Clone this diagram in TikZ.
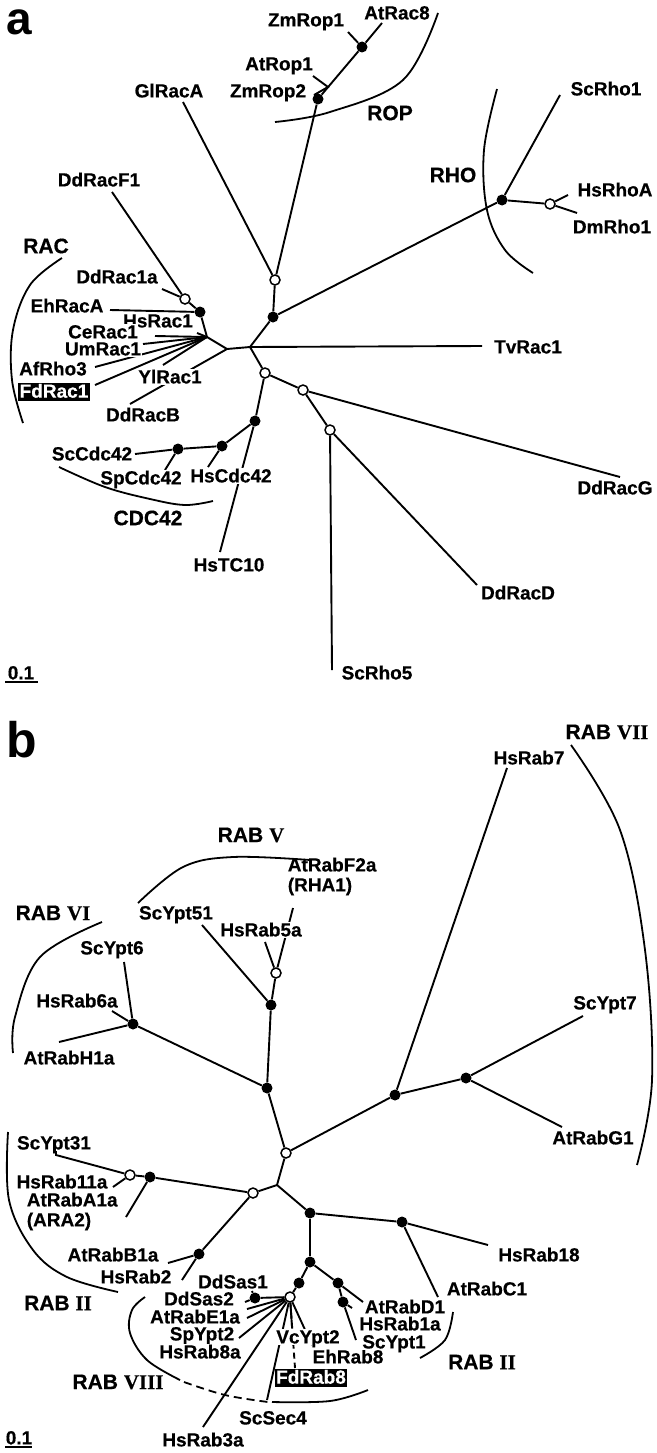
\documentclass[tikz,border=0pt]{standalone}
\usepackage{fontspec}
\newfontfamily\labf[FakeBold=0.5]{Liberation Sans Bold}
\newfontfamily\panf{Liberation Sans Bold}
\newfontfamily\romf[FakeBold=0.3]{Liberation Serif Bold}
\begin{document}
\begin{tikzpicture}[x=1pt,y=-1pt,
  br/.style={line width=1.9pt},
  brk/.style={line width=1.8pt},
  fdot/.style={circle,fill=black,inner sep=0pt,minimum size=11pt},
  odot/.style={circle,draw,fill=white,line width=1.5pt,inner sep=0pt,minimum size=10pt},
  lab/.style={font=\labf\fontsize{19}{20}\selectfont,inner xsep=0.6pt,inner ysep=0.2pt,text height=13.8pt,text depth=1pt,fill=white},
  hl/.style={lab,fill=black,text=white,inner xsep=1.5pt,inner ysep=1pt,text depth=2.5pt},
  grp/.style={font=\labf\fontsize{21}{22}\selectfont,inner sep=0.5pt},
  pan/.style={font=\panf\fontsize{46}{46}\selectfont,inner sep=0pt,anchor=base west}]
\useasboundingbox (0,0) rectangle (656,1453);
\newcommand{\rn}[1]{{\romf #1}}
% ================= panel a =================
\node[pan] (pa) at (6,35) {a};
% internal nodes
\coordinate (J0) at (250,347);
\coordinate (J1) at (227,349);
\coordinate (H) at (207,337);
\node[fdot] (Fa1) at (200,312) {};
\node[odot] (Oa1) at (185,299) {};
\node[fdot] (Fa2) at (273,317) {};
\node[odot] (Oa2) at (275,280) {};
\node[fdot] (Fa3) at (318,99) {};
\node[fdot] (Fa4) at (362,47) {};
\coordinate (vROP) at (328,87);
\node[fdot] (Fa5) at (502,200) {};
\node[odot] (Oa3) at (550,204) {};
\node[odot] (Oa4) at (265,373) {};
\node[odot] (Oa5) at (303,390) {};
\node[odot] (Oa6) at (330,430) {};
\node[fdot] (Fa6) at (255,421) {};
\node[fdot] (Fa7) at (222,446) {};
\node[fdot] (Fa8) at (178,449) {};
% leaf ends
\coordinate (eDdRacF1) at (112,192);
\coordinate (eDdRac1a) at (162,289);
\coordinate (eEhRacA) at (110,310);
\coordinate (eHsRac1) at (197,333);
\coordinate (eCeRac1) at (155,336);
\coordinate (eUmRac1) at (143,344);
\coordinate (eAfRho3) at (95,367);
\coordinate (eFdRac1) at (95,385);
\coordinate (eYlRac1) at (163,365);
\coordinate (eDdRacB) at (130,404);
\coordinate (eGlRacA) at (183,102);
\coordinate (eZmRop1) at (348,32);
\coordinate (eAtRac8) at (382,23);
\coordinate (eAtRop1) at (313,76);
\coordinate (eZmRop2) at (314,95);
\coordinate (eScRho1) at (560,95);
\coordinate (eHsRhoA) at (568,195);
\coordinate (eDmRho1) at (577,213);
\coordinate (eTvRac1) at (482,346);
\coordinate (eDdRacG) at (620,477);
\coordinate (eScRho5) at (332,670);
\coordinate (eDdRacD) at (477,585);
\coordinate (eHsTC10) at (220,552);
\coordinate (eHsCdc42) at (208,467);
\coordinate (eScCdc42) at (135,454);
\coordinate (eSpCdc42) at (165,470);
% branches
\draw[br] (J0) -- (J1) -- (H);
\draw[br] (J1) -- (eDdRacB);
\draw[br] (H) -- (eYlRac1);
\draw[br] (H) -- (eCeRac1);
\draw[br] (H) -- (eUmRac1);
\draw[br] (H) -- (eAfRho3);
\draw[br] (H) -- (eFdRac1);
\draw[br] (H) -- (eHsRac1);
\draw[br] (H) -- (Fa1);
\draw[br] (Fa1) -- (eEhRacA);
\draw[br] (Fa1) -- (Oa1);
\draw[br] (Oa1) -- (eDdRacF1);
\draw[br] (Oa1) -- (eDdRac1a);
\draw[br] (J0) -- (Fa2);
\draw[br] (Fa2) -- (Oa2);
\draw[br] (Fa2) -- (Fa5);
\draw[br] (Oa2) -- (eGlRacA);
\draw[br] (Oa2) -- (Fa3);
\draw[br] (Fa3) -- (Fa4);
\draw[br] (Fa4) -- (eZmRop1);
\draw[br] (Fa4) -- (eAtRac8);
\draw[br] (eAtRop1) -- (vROP) -- (eZmRop2);
\draw[br] (Fa5) -- (eScRho1);
\draw[br] (Fa5) -- (Oa3);
\draw[br] (Oa3) -- (eHsRhoA);
\draw[br] (Oa3) -- (eDmRho1);
\draw[br] (J0) -- (eTvRac1);
\draw[br] (J0) -- (Oa4);
\draw[br] (Oa4) -- (Oa5);
\draw[br] (Oa5) -- (eDdRacG);
\draw[br] (Oa5) -- (Oa6);
\draw[br] (Oa6) -- (eScRho5);
\draw[br] (Oa6) -- (eDdRacD);
\draw[br] (Oa4) -- (Fa6);
\draw[br] (Fa6) -- (eHsTC10);
\draw[br] (Fa6) -- (Fa7);
\draw[br] (Fa7) -- (eHsCdc42);
\draw[br] (Fa7) -- (Fa8);
\draw[br] (Fa8) -- (eScCdc42);
\draw[br] (Fa8) -- (eSpCdc42);
% labels
\node[lab] (lDdRacF1) at (99,180) {DdRacF1};
\node[lab] (lGlRacA) at (169,91) {GlRacA};
\node[lab] (lAtRop1) at (279,64) {AtRop1};
\node[lab] (lZmRop2) at (268,91) {ZmRop2};
\node[lab] (lZmRop1) at (306,20) {ZmRop1};
\node[lab] (lAtRac8) at (397,13) {AtRac8};
\node[lab] (lScRho1) at (606,89) {ScRho1};
\node[lab] (lHsRhoA) at (615,190) {HsRhoA};
\node[lab] (lDmRho1) at (612,227) {DmRho1};
\node[lab] (lDdRac1a) at (117,277) {DdRac1a};
\node[lab] (lEhRacA) at (67,306) {EhRacA};
\node[lab] (lHsRac1) at (158,321) {HsRac1};
\node[lab] (lCeRac1) at (103,332) {CeRac1};
\node[lab] (lUmRac1) at (103,349) {UmRac1};
\node[lab] (lAfRho3) at (53,369) {AfRho3};
\node[hl] (lFdRac1) at (54,392) {FdRac1};
\node[lab] (lYlRac1) at (170,377) {YlRac1};
\node[lab] (lDdRacB) at (143,415) {DdRacB};
\node[lab] (lTvRac1) at (528,347) {TvRac1};
\node[lab] (lDdRacG) at (615,488) {DdRacG};
\node[lab] (lScCdc42) at (92,454) {ScCdc42};
\node[lab] (lSpCdc42) at (141,478) {SpCdc42};
\node[lab] (lHsCdc42) at (231,476) {HsCdc42};
\node[lab] (lHsTC10) at (229,565) {HsTC10};
\node[lab] (lDdRacD) at (518,593) {DdRacD};
\node[lab] (lScRho5) at (377,673) {ScRho5};
\node[grp] (gROP) at (390,113) {ROP};
\node[grp] (gRHO) at (453,175) {RHO};
\node[grp] (gRAC) at (46,246) {RAC};
\node[grp] (gCDC) at (148,518) {CDC42};
\node[lab,fill=none] (sa) at (21,673) {0.1};
\draw[line width=1.4pt] (5,682) -- (38,682);
% brackets
\draw[brk] plot[smooth,tension=0.6] coordinates {(275,122) (330,112) (403,80) (438,13)};
\draw[brk] plot[smooth,tension=0.6] coordinates {(497,89) (484,150) (487,210) (505,250) (533,273)};
\draw[brk] plot[smooth,tension=0.6] coordinates {(62,258) (30,285) (13,330) (12,380) (23,423)};
\draw[brk] plot[smooth,tension=0.6] coordinates {(59,467) (105,487) (150,499) (185,505) (213,501)};
% ================= panel b =================
\node[pan,font=\panf\fontsize{50}{50}\selectfont] (pb) at (6,757) {b};
\node[odot] (Ob1) at (286,1153) {};
\node[fdot] (Fb1) at (267,1088) {};
\node[fdot] (Fb2) at (133,1024) {};
\node[fdot] (Fb3) at (271,1005) {};
\node[odot] (Ob2) at (276,973) {};
\node[fdot] (Fb4) at (395,1095) {};
\node[fdot] (Fb5) at (466,1078) {};
\coordinate (J2) at (277,1185);
\node[odot] (Ob3) at (253,1193) {};
\node[fdot] (Fb6) at (150,1177) {};
\node[odot] (Ob4) at (130,1175) {};
\node[fdot] (Fb7) at (199,1254) {};
\node[fdot] (Fb8) at (310,1213) {};
\node[fdot] (Fb9) at (402,1222) {};
\node[fdot] (Fb10) at (310,1262) {};
\node[fdot] (Fb11) at (299,1283) {};
\node[fdot] (Fb12) at (338,1283) {};
\node[fdot] (Fb13) at (343,1302) {};
\node[odot] (Ob5) at (290,1297) {};
\node[fdot] (Fb14) at (255,1298) {};
\coordinate (eScYpt51) at (202,925);
\coordinate (eHsRab5a) at (265,942);
\coordinate (eAtRabF2a) at (293,908);
\coordinate (eScYpt6) at (124,962);
\coordinate (eHsRab6a) at (112,1011);
\coordinate (eAtRabH1a) at (59,1042);
\coordinate (eHsRab7) at (507,768);
\coordinate (eScYpt7) at (583,1016);
\coordinate (eAtRabG1) at (562,1127);
\coordinate (cScYpt31) at (56,1155);
\coordinate (eScYpt31) at (56,1148);
\coordinate (eHsRab11a) at (113,1187);
\coordinate (eAtRabA1a) at (126,1217);
\coordinate (eAtRabB1a) at (168,1263);
\coordinate (eHsRab2) at (182,1280);
\coordinate (eHsRab18) at (488,1245);
\coordinate (eAtRabC1) at (438,1297);
\coordinate (eAtRabD1) at (363,1302);
\coordinate (eHsRab1a) at (352,1308);
\coordinate (eScYpt1) at (356,1340);
\coordinate (eDdSas1) at (252,1291);
\coordinate (eDdSas2) at (245,1302);
\coordinate (eAtRabE1a) at (247,1309);
\coordinate (eSpYpt2) at (247,1318);
\coordinate (eHsRab8a) at (239,1338);
\coordinate (eHsRab3a) at (203,1427);
\coordinate (eScSec4) at (267,1400);
\coordinate (eVcYpt2) at (292,1327);
\coordinate (eEhRab8) at (312,1345);
\coordinate (eFdRab8) at (295,1368);
\draw[br] (Ob1) -- (Fb1);
\draw[br] (Ob1) -- (Fb4);
\draw[br] (Ob1) -- (J2);
\draw[br] (Fb1) -- (Fb2);
\draw[br] (Fb1) -- (Fb3);
\draw[br] (Fb3) -- (Ob2);
\draw[br] (Fb3) -- (eScYpt51);
\draw[br] (Ob2) -- (eHsRab5a);
\draw[br] (Ob2) -- (eAtRabF2a);
\draw[br] (Fb2) -- (eScYpt6);
\draw[br] (Fb2) -- (eHsRab6a);
\draw[br] (Fb2) -- (eAtRabH1a);
\draw[br] (Fb4) -- (eHsRab7);
\draw[br] (Fb4) -- (Fb5);
\draw[br] (Fb5) -- (eScYpt7);
\draw[br] (Fb5) -- (eAtRabG1);
\draw[br] (J2) -- (Ob3);
\draw[br] (Ob3) -- (Fb6);
\draw[br] (Ob3) -- (Fb7);
\draw[br] (Fb6) -- (Ob4);
\draw[br] (Ob4) -- (cScYpt31) -- (eScYpt31);
\draw[br] (Ob4) -- (eHsRab11a);
\draw[br] (Fb6) -- (eAtRabA1a);
\draw[br] (Fb7) -- (eAtRabB1a);
\draw[br] (Fb7) -- (eHsRab2);
\draw[br] (J2) -- (Fb8);
\draw[br] (Fb8) -- (Fb9);
\draw[br] (Fb9) -- (eHsRab18);
\draw[br] (Fb9) -- (eAtRabC1);
\draw[br] (Fb8) -- (Fb10);
\draw[br] (Fb10) -- (Fb11);
\draw[br] (Fb10) -- (Fb12);
\draw[br] (Fb12) -- (eAtRabD1);
\draw[br] (Fb12) -- (Fb13);
\draw[br] (Fb13) -- (eHsRab1a);
\draw[br] (Fb13) -- (eScYpt1);
\draw[br] (Fb11) -- (Ob5);
\draw[br] (Ob5) -- (Fb14);
\draw[br] (Fb14) -- (eDdSas1);
\draw[br] (Fb14) -- (eDdSas2);
\draw[br] (Ob5) -- (eAtRabE1a);
\draw[br] (Ob5) -- (eSpYpt2);
\draw[br] (Ob5) -- (eHsRab8a);
\draw[br] (Ob5) -- (eHsRab3a);
\draw[br] (Ob5) -- (eScSec4);
\draw[br] (Ob5) -- (eVcYpt2);
\draw[br] (Ob5) -- (eEhRab8);
\draw[br,dash pattern=on 6pt off 4pt] (Ob5) -- (eFdRab8);
% labels b
\node[lab,align=left,anchor=west] (lAtRabF2a) at (287,885) {AtRabF2a\\(RHA1)};
\node[lab] (lScYpt51) at (176,913) {ScYpt51};
\node[lab] (lHsRab5a) at (261,930) {HsRab5a};
\node[lab] (lScYpt6) at (112,948) {ScYpt6};
\node[lab] (lHsRab6a) at (77,1001) {HsRab6a};
\node[lab] (lAtRabH1a) at (69,1058) {AtRabH1a};
\node[lab] (lHsRab7) at (529,758) {HsRab7};
\node[lab] (lScYpt7) at (605,1003) {ScYpt7};
\node[lab] (lAtRabG1) at (593,1138) {AtRabG1};
\node[lab] (lScYpt31) at (54,1143) {ScYpt31};
\node[lab] (lHsRab11a) at (62,1182) {HsRab11a};
\node[lab,align=left,anchor=west] (lAtRabA1a) at (26,1220) {AtRabA1a\\(ARA2)};
\node[lab] (lAtRabB1a) at (113,1255) {AtRabB1a};
\node[lab] (lHsRab2) at (136,1277) {HsRab2};
\node[lab] (lDdSas1) at (233,1282) {DdSas1};
\node[lab] (lDdSas2) at (199,1299) {DdSas2};
\node[lab] (lAtRabE1a) at (195,1317) {AtRabE1a};
\node[lab] (lSpYpt2) at (202,1334) {SpYpt2};
\node[lab] (lHsRab8a) at (200,1352) {HsRab8a};
\node[lab] (lVcYpt2) at (308,1337) {VcYpt2};
\node[lab] (lEhRab8) at (348,1357) {EhRab8};
\node[hl] (lFdRab8) at (311,1378) {FdRab8};
\node[lab] (lScSec4) at (273,1418) {ScSec4};
\node[lab] (lHsRab3a) at (203,1440) {HsRab3a};
\node[lab] (lHsRab18) at (539,1255) {HsRab18};
\node[lab] (lAtRabC1) at (487,1289) {AtRabC1};
\node[lab] (lAtRabD1) at (405,1307) {AtRabD1};
\node[lab] (lHsRab1a) at (400,1324) {HsRab1a};
\node[lab] (lScYpt1) at (394,1342) {ScYpt1};
\node[grp] (gRABV) at (251,835) {RAB \rn{V}};
\node[grp] (gRABVI) at (53,913) {RAB \rn{VI}};
\node[grp] (gRABVII) at (607,732) {RAB \rn{VII}};
\node[grp] (gRABIIa) at (58,1303) {RAB \rn{II}};
\node[grp] (gRABIIb) at (482,1362) {RAB \rn{II}};
\node[grp] (gRABVIII) at (118,1382) {RAB \rn{VIII}};
\node[lab,fill=none] (sb) at (19,1438) {0.1};
\draw[line width=1.4pt] (5,1447) -- (32,1447);
% brackets b
\draw[brk] plot[smooth,tension=0.6] coordinates {(138,903) (183,867) (233,857) (310,860)};
\draw[brk] plot[smooth,tension=0.6] coordinates {(102,922) (40,957) (15,1017) (13,1053)};
\draw[brk] plot[smooth,tension=0.6] coordinates {(571,745) (620,830) (645,950) (652,1080) (637,1165)};
\draw[brk] plot[smooth,tension=0.6] coordinates {(8,1132) (9,1200) (33,1250) (67,1277) (118,1292)};
\draw[brk] plot[smooth,tension=0.6] coordinates {(453,1312) (445,1340) (420,1358)};
\draw[brk] plot[smooth,tension=0.6] coordinates {(145,1297) (132,1310) (130,1333) (147,1360) (180,1380)};
\draw[brk,dash pattern=on 8pt off 5pt] plot[smooth,tension=0.6] coordinates {(184,1382) (225,1395) (268,1402)};
\draw[brk] plot[smooth,tension=0.6] coordinates {(272,1402) (330,1401) (368,1390)};
\end{tikzpicture}
\end{document}
